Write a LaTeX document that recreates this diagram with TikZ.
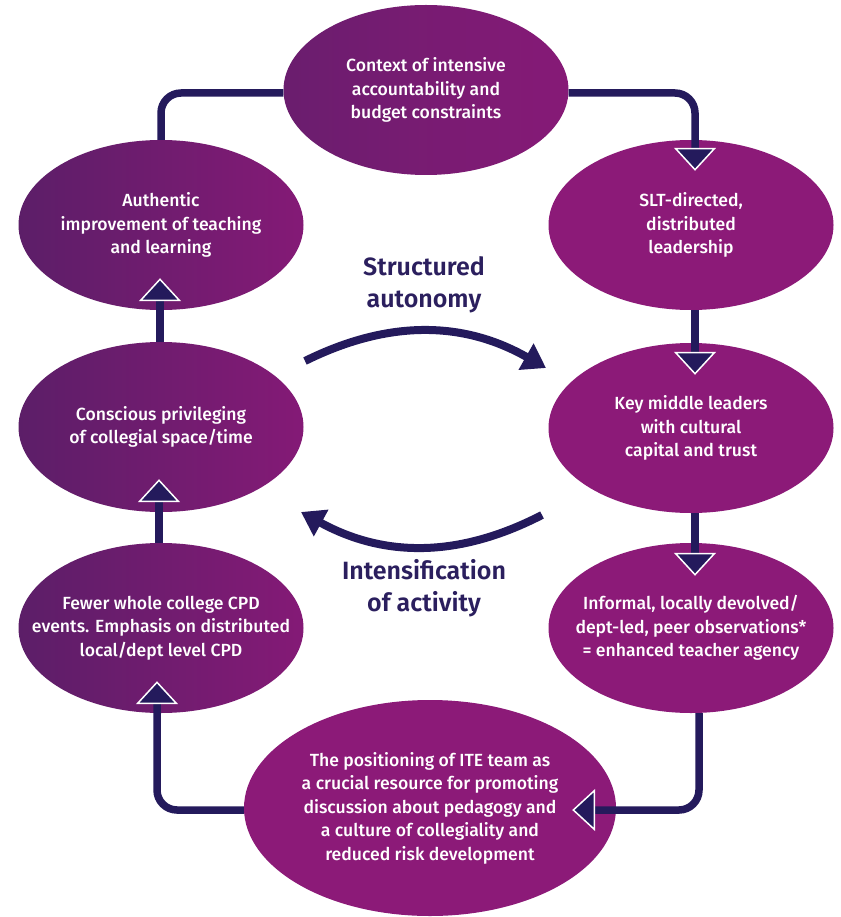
\documentclass[tikz,border=0pt]{standalone}
\usepackage{fontspec}
\setmainfont{Fira Sans}[UprightFont={* Medium}, BoldFont={* SemiBold}]
\usetikzlibrary{arrows.meta,shapes.geometric}
\definecolor{navy}{HTML}{241A5C}
\definecolor{plumdark}{HTML}{5C1E68}
\definecolor{plumleftr}{HTML}{841A76}
\definecolor{plumtopl}{HTML}{6A1D6E}
\definecolor{plum}{HTML}{8C1A78}
\definecolor{labelc}{HTML}{2B1F5E}
\begin{document}
\begin{tikzpicture}[x=1pt,y=-1pt,
  bub/.style={ellipse, minimum width=285pt, minimum height=170pt,
    inner xsep=-50pt, inner ysep=-30pt,
    align=center, text=white, font=\fontsize{17.6}{23.5}\selectfont},
  bubL/.style={bub, left color=plumdark, right color=plumleftr},
  bubT/.style={bub, left color=plumtopl, right color=plumleftr!70!plum},
  bubR/.style={bub, fill=plum},
  lineonly/.style={draw=navy, line width=7.5pt, rounded corners=20pt},
  conn/.style={lineonly, -{Triangle[width=42pt,length=23pt,line width=1.5pt,color=white,fill=navy]}},
  curv/.style={draw=navy, line width=8pt, -{Triangle[width=29pt,length=23pt]}},
  lab/.style={text=labelc, align=center, font=\fontsize{25}{32}\selectfont\bfseries}
]
\useasboundingbox (0,0) rectangle (840,917);
\fill[white] (0,0) rectangle (840,917);

\node[bubT] (ctx) at (426,90) {Context of intensive\\accountability and\\budget constraints};
\node[bubR] (slt) at (691,225) {SLT-directed,\\distributed\\leadership};
\node[bubR] (key) at (691,428) {Key middle leaders\\with cultural\\capital and trust};
\node[bubR] (info) at (691,628) {Informal, locally devolved/\\dept-led, peer observations*\\= enhanced teacher agency};
\node[bubR, minimum width=372pt, minimum height=216pt] (bot) at (430,808)
  {The positioning of ITE team as\\a crucial resource for promoting\\discussion about pedagogy and\\a culture of collegiality and\\reduced risk development};
\node[bubL] (few) at (161,628) {Fewer whole college CPD\\events. Emphasis on distributed\\local/dept level CPD};
\node[bubL] (consc) at (161,427) {Conscious privileging\\of collegial space/time};
\node[bubL] (auth) at (161,225) {Authentic\\improvement of teaching\\and learning};

\draw[lineonly] (auth.north) |- ([yshift=-3pt]ctx.west);
\draw[conn] ([yshift=-3pt]ctx.east) -| ([xshift=4pt,yshift=-31pt]slt.north);
\draw[conn] ([xshift=4pt]slt.south) -- ([xshift=4pt,yshift=-32pt]key.north);
\draw[conn] ([xshift=4pt]key.south) -- ([xshift=4pt,yshift=-33pt]info.north);
\draw[conn] ([xshift=8pt]info.south) |- ([xshift=-44pt,yshift=-2pt]bot.east);
\draw[conn] ([yshift=-2pt]bot.west) -| ([xshift=-4pt,yshift=32pt]few.south);
\draw[conn] ([xshift=-2pt]few.north) -- ([xshift=-2pt,yshift=33pt]consc.south);
\draw[conn] ([xshift=-1pt]consc.north) -- ([xshift=-1pt,yshift=32pt]auth.south);

\coordinate (ua) at (305,361);
\coordinate (ub) at (546,368);
\coordinate (la) at (542,515);
\coordinate (lb) at (301,512);
\draw[curv] (ua) to[bend left=28] (ub);
\draw[curv] (la) to[bend left=28] (lb);

\node[lab] (sa) at (424,285) {Structured\\autonomy};
\node[lab] (ia) at (424,588) {Intensification\\of activity};
\end{tikzpicture}
\end{document}
